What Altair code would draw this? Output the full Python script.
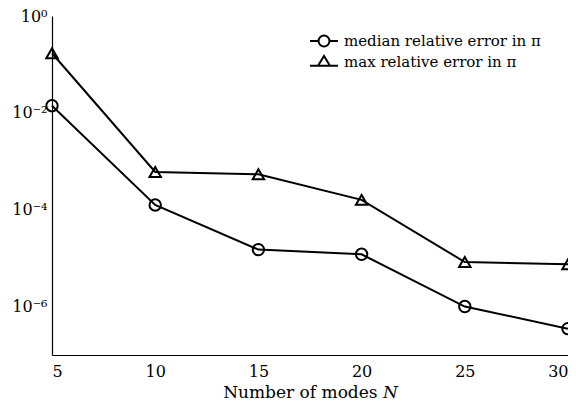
import altair as alt
import pandas as pd
import math

modes = [5, 10, 15, 20, 25, 30]
median_err = [1.4e-2, 1.25e-4, 1.5e-5, 1.2e-5, 1.0e-6, 3.5e-7]
max_err = [0.17, 6.0e-4, 5.4e-4, 1.6e-4, 8.3e-6, 7.5e-6]
series_names = ["median relative error in π", "max relative error in π"]
x_ticks = [5, 10, 15, 20, 25, 30]
y_ticks = [1, 1e-2, 1e-4, 1e-6]
y_tick_labels = ["10⁰", "10⁻²", "10⁻⁴", "10⁻⁶"]

rows = []
for n, m, M in zip(modes, median_err, max_err):
    rows.append({"N": n, "err": m, "series": series_names[0]})
    rows.append({"N": n, "err": M, "series": series_names[1]})
df = pd.DataFrame(rows)

FONT = "DejaVu Serif"

label_expr = " : ".join(
    f"abs(log(datum.value)/log(10) - ({int(round(math.log10(v)))})) < 0.1 ? '{lab}'"
    for v, lab in zip(y_ticks, y_tick_labels)
) + " : ''"

x_enc = alt.X(
    "N:Q",
    scale=alt.Scale(domain=[5, 30], nice=False, zero=False),
    axis=alt.Axis(values=x_ticks, title="Number of modes 𝑁", grid=False, ticks=False,
                  labelPadding=8, titlePadding=5, format="d"),
)
y_enc = alt.Y(
    "err:Q",
    scale=alt.Scale(type="log", domain=[1e-7, 1], nice=False),
    axis=alt.Axis(values=y_ticks, labelExpr=label_expr, title=None, grid=False,
                  ticks=False, labelPadding=5),
)

base = alt.Chart(df)

lines = base.mark_line(color="black", strokeWidth=2).encode(
    x=x_enc, y=y_enc, detail="series:N"
)

points = base.mark_point(color="black", filled=False, strokeWidth=2, size=130, opacity=1).encode(
    x=x_enc, y=y_enc,
    shape=alt.Shape("series:N", scale=alt.Scale(domain=series_names, range=["circle", "triangle-up"]),
                    legend=None),
)

circle_path = "M-2,0H-0.78M0.78,0H2M0.78,0A0.78,0.78 0 1,0 -0.78,0A0.78,0.78 0 1,0 0.78,0"
tri_path = "M-2,0.55H-0.85M0.85,0.55H2M0,-0.85L0.85,0.55L-0.85,0.55Z"

legend_layer = base.transform_filter("false").mark_point(color="black", filled=False).encode(
    x=x_enc, y=y_enc,
    shape=alt.Shape(
        "series:N",
        scale=alt.Scale(domain=series_names, range=[circle_path, tri_path]),
        legend=alt.Legend(
            title=None, orient="none", legendX=264, legendY=17,
            symbolSize=196, symbolStrokeColor="black", symbolFillColor="transparent",
            symbolStrokeWidth=2, symbolOpacity=1, labelOffset=12,
            labelFont=FONT, labelFontSize=15, labelColor="black",
            rowPadding=1, padding=0, labelLimit=400,
        ),
    ),
)

chart = (
    alt.layer(lines, points, legend_layer)
    .resolve_scale(shape="independent")
    .properties(
        width=516, height=339,
        autosize=alt.AutoSizeParams(type="none"),
        padding={"left": 44, "top": 8, "right": 0, "bottom": 50},
    )
    .configure_view(stroke=None)
    .configure_axis(
        labelFont=FONT, titleFont=FONT, labelFontSize=16, titleFontSize=17,
        labelColor="black", titleColor="black", domainColor="black", domainWidth=1.2,
        titleFontWeight="normal",
    )
)

chart.save("out.html", embed_options={"renderer": "svg", "actions": False})
